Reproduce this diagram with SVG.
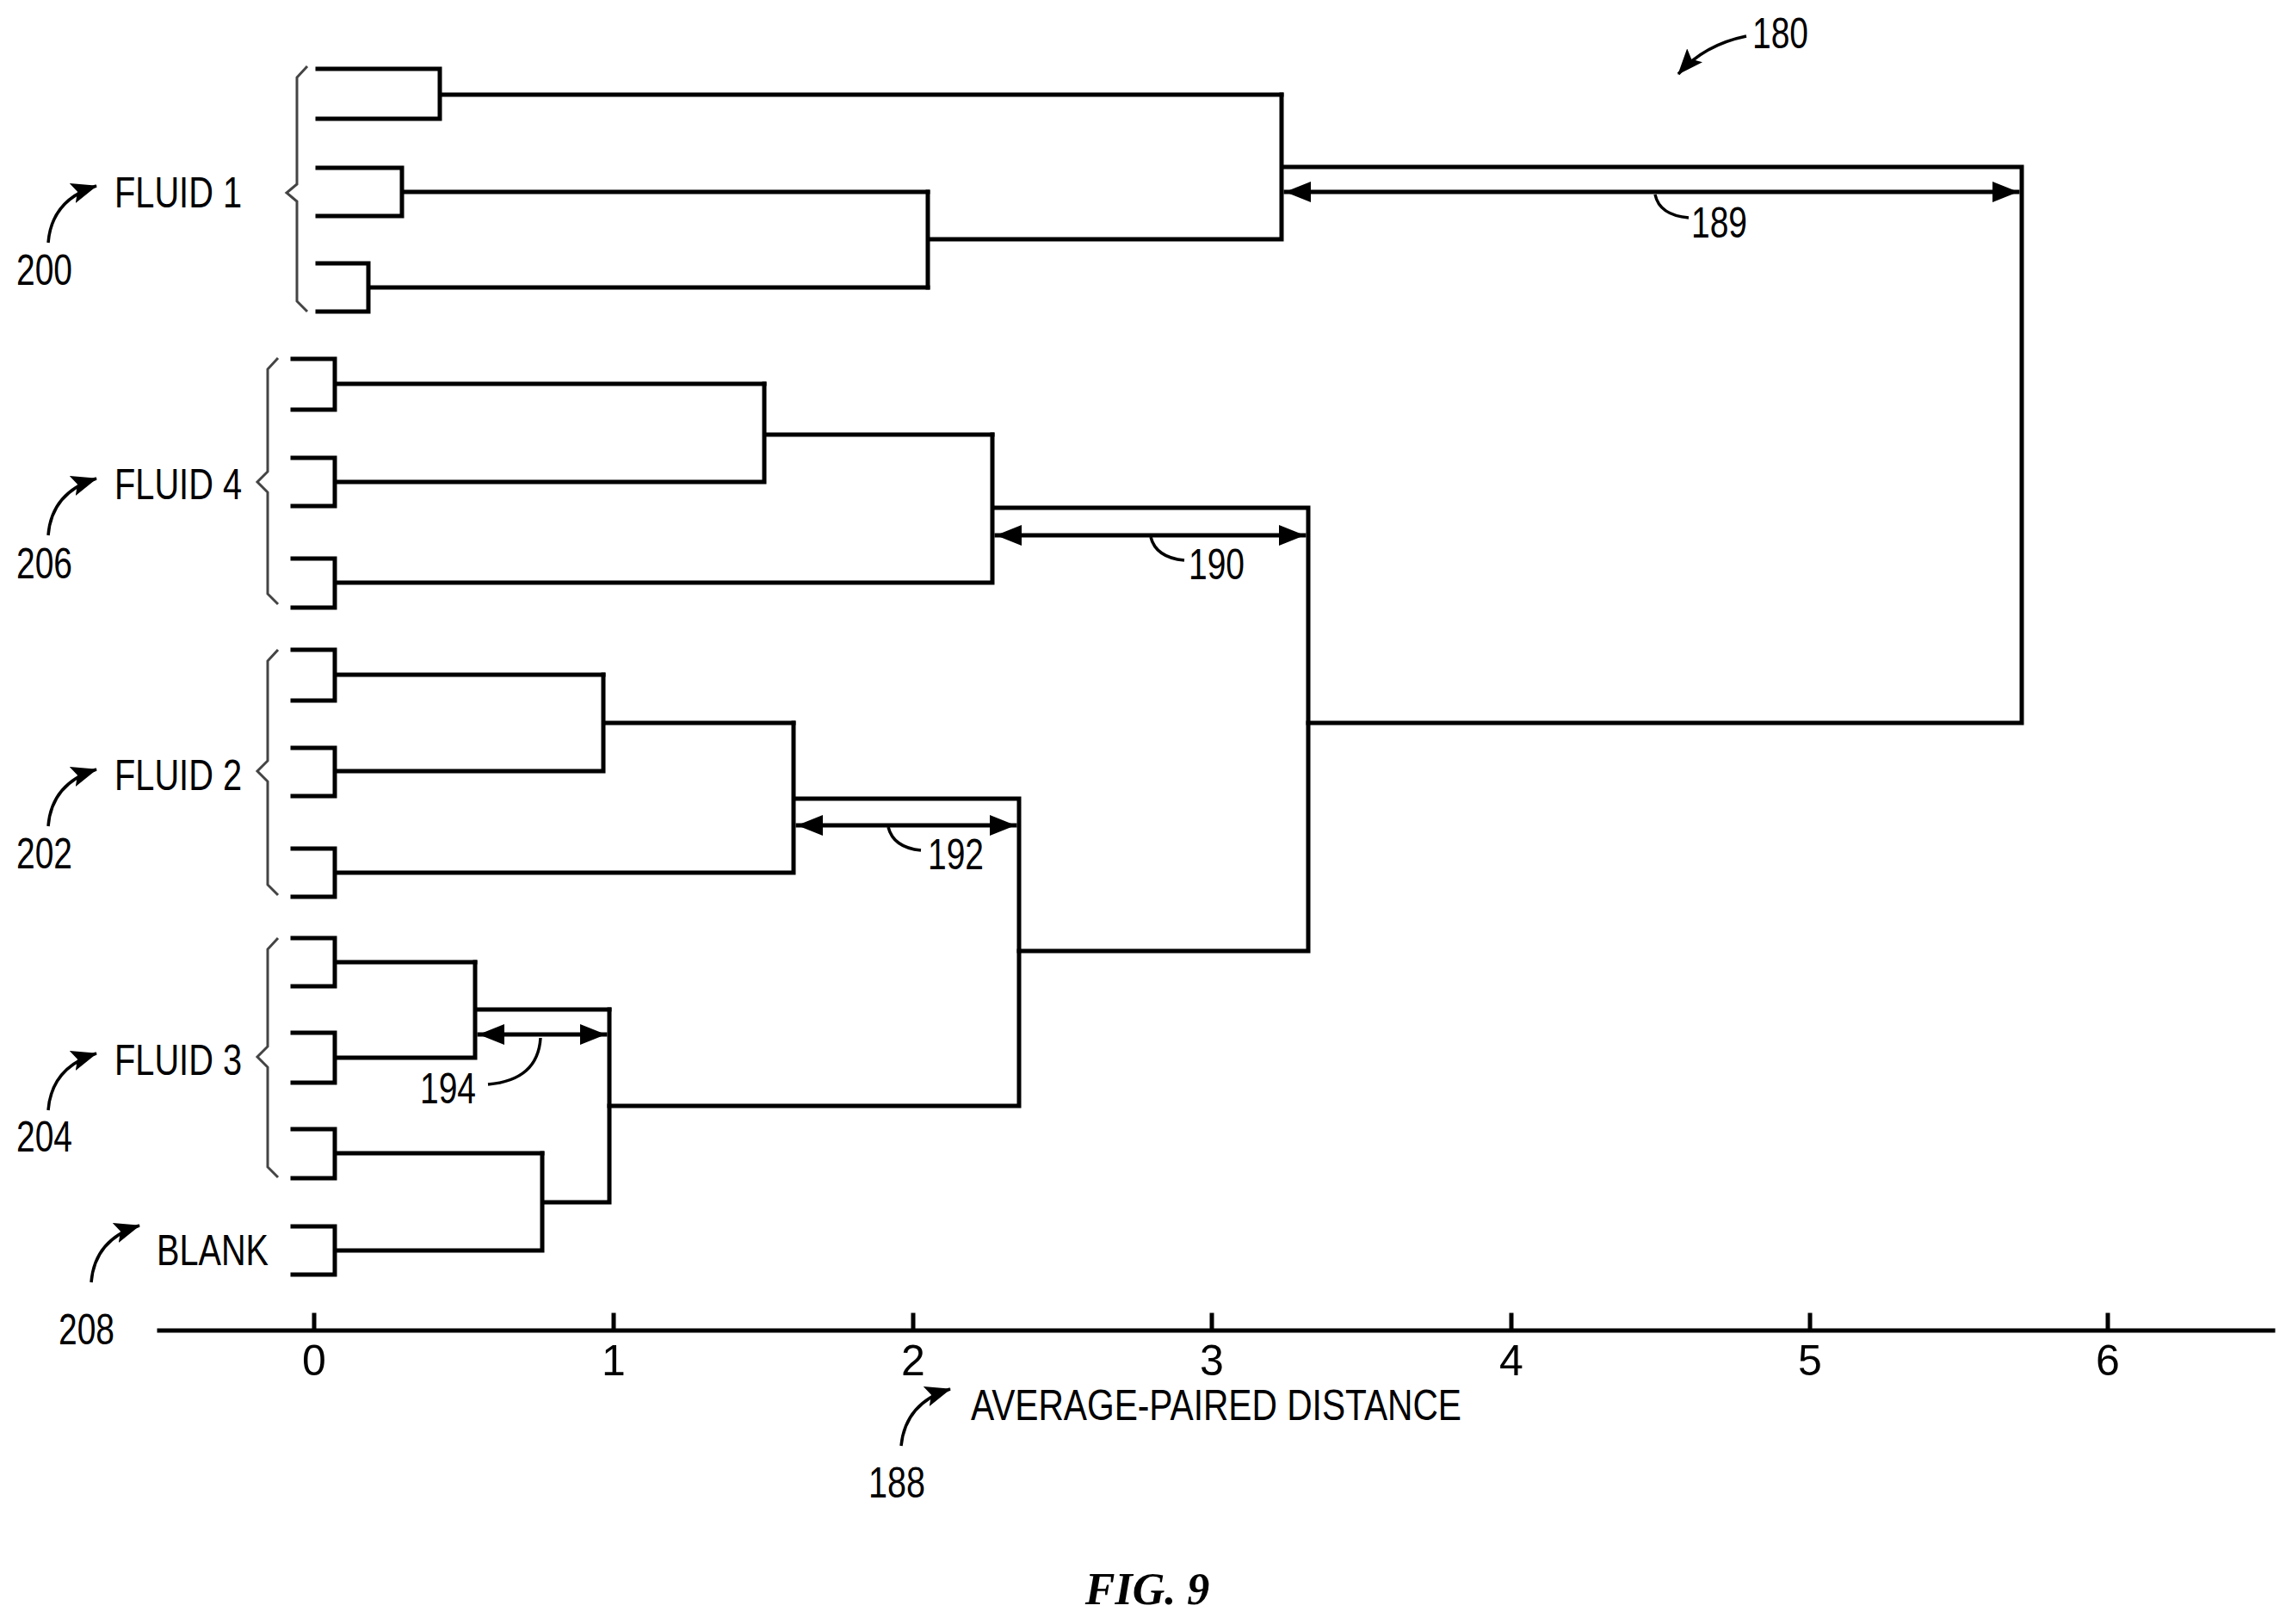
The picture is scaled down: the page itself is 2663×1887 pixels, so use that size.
<svg xmlns="http://www.w3.org/2000/svg" width="2663" height="1887" viewBox="0 0 2663 1887">
<defs>
<style>
.l{fill:none;stroke:#000;stroke-width:5;stroke-linecap:square}
.b{fill:none;stroke:#444;stroke-width:3}
.c{fill:none;stroke:#000;stroke-width:3.5}
.t{font-family:"Liberation Sans",Arial,sans-serif;font-size:50px;fill:#000}
.f{font-family:"Liberation Serif","Times New Roman",serif;font-size:52px;font-style:italic;font-weight:bold}
</style>
<marker id="a" viewBox="0 0 10 10" refX="9" refY="5" markerWidth="7" markerHeight="7" orient="auto-start-reverse" markerUnits="userSpaceOnUse" style="overflow:visible">
<path d="M0,0 L10,5 L0,10 Z" fill="#000" transform="scale(3)" transform-origin="9 5"/>
</marker>
<marker id="d" viewBox="0 0 30 24" refX="29" refY="12" markerWidth="30" markerHeight="24" orient="auto-start-reverse" markerUnits="userSpaceOnUse">
<path d="M0,0 L30,12 L0,24 Z" fill="#000"/>
</marker>
<marker id="s" viewBox="0 0 30 24" refX="29" refY="12" markerWidth="30" markerHeight="24" orient="auto" markerUnits="userSpaceOnUse">
<path d="M0,0 L30,12 L0,24 L6,12 Z" fill="#000"/>
</marker>
</defs>
<rect width="2663" height="1887" fill="#fff"/>
<g id="connectors">
<!-- Fluid 1 -->
<path class="l" d="M369,80 H511 V138 H369 M511,110 H1489"/>
<path class="l" d="M369,195 H467 V251 H369 M467,223 H1078"/>
<path class="l" d="M369,306 H428 V362 H369 M428,334 H1078"/>
<path class="l" d="M1078,223 V334 M1078,278 H1489 M1489,110 V278 M1489,194 H2349 V840 H1520"/>
<!-- Fluid 4 -->
<path class="l" d="M340,417 H389 V476 H340 M389,446 H888"/>
<path class="l" d="M340,532 H389 V588 H340 M389,560 H888 M888,446 V560 M888,505 H1153"/>
<path class="l" d="M340,649 H389 V706 H340 M389,677 H1153 M1153,505 V677 M1153,590 H1520 V1105 H1184"/>
<!-- Fluid 2 -->
<path class="l" d="M340,755 H389 V814 H340 M389,784 H701"/>
<path class="l" d="M340,869 H389 V925 H340 M389,896 H701 M701,784 V896 M701,840 H922"/>
<path class="l" d="M340,986 H389 V1042 H340 M389,1014 H922 M922,840 V1014 M922,928 H1184 V1285 H708"/>
<!-- Fluid 3 / blank -->
<path class="l" d="M340,1090 H389 V1146 H340 M389,1118 H552"/>
<path class="l" d="M340,1200 H389 V1258 H340 M389,1229 H552 M552,1118 V1229 M552,1173 H708"/>
<path class="l" d="M340,1312 H389 V1369 H340 M389,1340 H630"/>
<path class="l" d="M340,1425 H389 V1481 H340 M389,1453 H630 M630,1340 V1453 M630,1397 H708 M708,1173 V1397"/>
<!-- distance arrows -->
<path class="l" d="M1494,223 H2344" marker-start="url(#d)" marker-end="url(#d)"/>
<path class="l" d="M1158,622 H1515" marker-start="url(#d)" marker-end="url(#d)"/>
<path class="l" d="M927,959 H1179" marker-start="url(#d)" marker-end="url(#d)"/>
<path class="l" d="M557,1202 H703" marker-start="url(#d)" marker-end="url(#d)"/>
<!-- leaders -->
<path class="c" d="M1923,226 Q1928,250 1962,253"/>
<path class="c" d="M1337,624 Q1343,648 1376,651"/>
<path class="c" d="M1032,961 Q1038,985 1070,988"/>
<path class="c" d="M628,1206 Q625,1255 567,1260"/>
<!-- axis -->
<path class="l" d="M185,1546 H2641 M365,1528 V1546 M713,1528 V1546 M1061,1528 V1546 M1408,1528 V1546 M1756,1528 V1546 M2103,1528 V1546 M2449,1528 V1546"/>
<!-- braces -->
<path class="b" d="M357,77 L345,90 V214 L333,224 L345,234 V350 L357,362"/>
<path class="b" d="M323,416 L311,429 V548 L299,560 L311,572 V690 L323,702"/>
<path class="b" d="M323,755 L311,768 V884 L299,896 L311,908 V1028 L323,1040"/>
<path class="b" d="M323,1090 L311,1103 V1216 L299,1228 L311,1240 V1356 L323,1368"/>
<!-- reference arrows -->
<path class="c" d="M56,282 Q60,232 112,216" marker-end="url(#s)"/>
<path class="c" d="M56,622 Q60,572 112,556" marker-end="url(#s)"/>
<path class="c" d="M56,960 Q60,910 112,894" marker-end="url(#s)"/>
<path class="c" d="M56,1290 Q60,1240 112,1224" marker-end="url(#s)"/>
<path class="c" d="M106,1490 Q110,1440 162,1424" marker-end="url(#s)"/>
<path class="c" d="M2029,42 Q1980,52 1950,86" marker-end="url(#s)"/>
<path class="c" d="M1047,1680 Q1052,1630 1104,1614" marker-end="url(#s)"/>
</g>
<g id="labels">
<text class="t" x="133" y="241" textLength="148" lengthAdjust="spacingAndGlyphs">FLUID 1</text>
<text class="t" x="19" y="331" textLength="65" lengthAdjust="spacingAndGlyphs">200</text>
<text class="t" x="133" y="580" textLength="148" lengthAdjust="spacingAndGlyphs">FLUID 4</text>
<text class="t" x="19" y="672" textLength="65" lengthAdjust="spacingAndGlyphs">206</text>
<text class="t" x="133" y="918" textLength="148" lengthAdjust="spacingAndGlyphs">FLUID 2</text>
<text class="t" x="19" y="1009" textLength="65" lengthAdjust="spacingAndGlyphs">202</text>
<text class="t" x="133" y="1249" textLength="148" lengthAdjust="spacingAndGlyphs">FLUID 3</text>
<text class="t" x="19" y="1338" textLength="65" lengthAdjust="spacingAndGlyphs">204</text>
<text class="t" x="182" y="1470" textLength="130" lengthAdjust="spacingAndGlyphs">BLANK</text>
<text class="t" x="68" y="1562" textLength="65" lengthAdjust="spacingAndGlyphs">208</text>
<text class="t" x="2036" y="56" textLength="65" lengthAdjust="spacingAndGlyphs">180</text>
<text class="t" x="1965" y="276" textLength="65" lengthAdjust="spacingAndGlyphs">189</text>
<text class="t" x="1381" y="673" textLength="65" lengthAdjust="spacingAndGlyphs">190</text>
<text class="t" x="1078" y="1010" textLength="65" lengthAdjust="spacingAndGlyphs">192</text>
<text class="t" x="488" y="1282" textLength="65" lengthAdjust="spacingAndGlyphs">194</text>
<text class="t" x="365" y="1598" text-anchor="middle">0</text>
<text class="t" x="713" y="1598" text-anchor="middle">1</text>
<text class="t" x="1061" y="1598" text-anchor="middle">2</text>
<text class="t" x="1408" y="1598" text-anchor="middle">3</text>
<text class="t" x="1756" y="1598" text-anchor="middle">4</text>
<text class="t" x="2103" y="1598" text-anchor="middle">5</text>
<text class="t" x="2449" y="1598" text-anchor="middle">6</text>
<text class="t" x="1128" y="1650" textLength="570" lengthAdjust="spacingAndGlyphs">AVERAGE-PAIRED DISTANCE</text>
<text class="t" x="1009" y="1740" textLength="66" lengthAdjust="spacingAndGlyphs">188</text>
<text class="f" x="1333" y="1864" text-anchor="middle">FIG. 9</text>
</g>
</svg>
